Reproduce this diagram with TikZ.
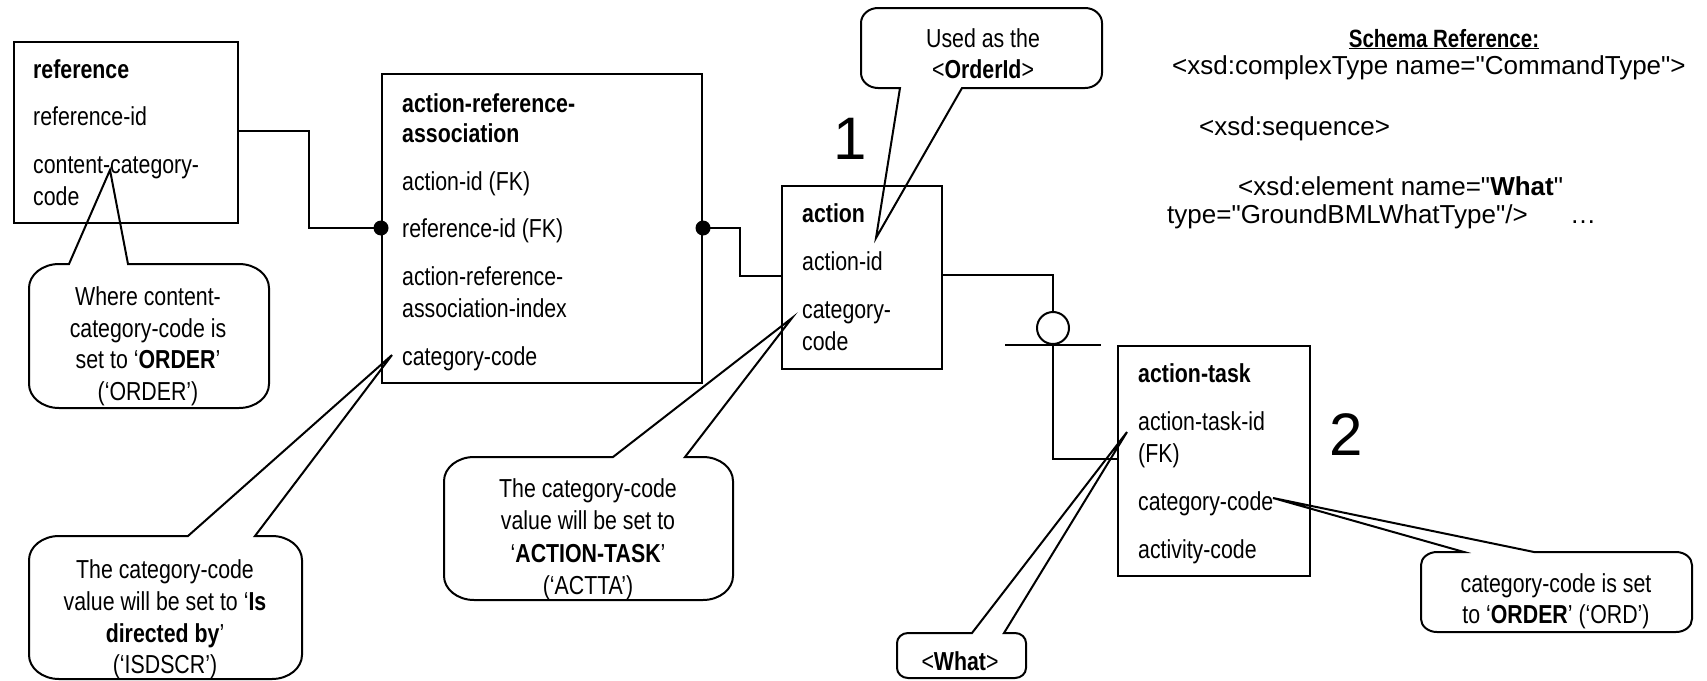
\documentclass[tikz,border=0pt]{standalone}
\usepackage{fontspec}
\setmainfont{Liberation Sans}
\newfontfamily\nf[FakeStretch=0.82]{Liberation Sans}
\newfontfamily\schf[Ligatures=TeXOff]{Liberation Sans}
\newcommand{\nsz}{\fontsize{26}{31}\selectfont}
\def\crx{30}\def\cry{24}
% callout with tail on the top edge: x1,y1,x2,y2,b1,b2,tip
\newcommand{\calloutTop}[7]{%
 \draw[co] ({#1+\crx},#2) -- (#5,#2) -- (#7) -- (#6,#2) -- ({#3-\crx},#2)
  .. controls ({#3-0.45*\crx},#2) and (#3,{#2+0.45*\cry}) .. (#3,{#2+\cry})
  -- (#3,{#4-\cry})
  .. controls (#3,{#4-0.45*\cry}) and ({#3-0.45*\crx},#4) .. ({#3-\crx},#4)
  -- ({#1+\crx},#4)
  .. controls ({#1+0.45*\crx},#4) and (#1,{#4-0.45*\cry}) .. (#1,{#4-\cry})
  -- (#1,{#2+\cry})
  .. controls (#1,{#2+0.45*\cry}) and ({#1+0.45*\crx},#2) .. ({#1+\crx},#2) -- cycle;}
% callout with tail on the bottom edge
\newcommand{\calloutBot}[7]{%
 \draw[co] ({#1+\crx},#2) -- ({#3-\crx},#2)
  .. controls ({#3-0.45*\crx},#2) and (#3,{#2+0.45*\cry}) .. (#3,{#2+\cry})
  -- (#3,{#4-\cry})
  .. controls (#3,{#4-0.45*\cry}) and ({#3-0.45*\crx},#4) .. ({#3-\crx},#4)
  -- (#6,#4) -- (#7) -- (#5,#4) -- ({#1+\crx},#4)
  .. controls ({#1+0.45*\crx},#4) and (#1,{#4-0.45*\cry}) .. (#1,{#4-\cry})
  -- (#1,{#2+\cry})
  .. controls (#1,{#2+0.45*\cry}) and ({#1+0.45*\crx},#2) .. ({#1+\crx},#2) -- cycle;}
\begin{document}
\begin{tikzpicture}[x=1pt,y=-1pt,
  ebox/.style={draw, line width=2pt, anchor=north west, inner sep=0pt},
  etxt/.style={anchor=base west, inner sep=0pt, font=\nf\nsz},
  etitle/.style={anchor=base west, inner sep=0pt, font=\nf\nsz\bfseries},
  ctxt/.style={anchor=base, inner sep=0pt, font=\nf\nsz},
  stxt/.style={anchor=base west, inner sep=0pt, font=\schf\nsz},
  conn/.style={line width=2pt},
  co/.style={line width=2pt, line join=miter},
  bignum/.style={inner sep=0pt, font=\fontsize{60}{60}\selectfont}]
\useasboundingbox (0,0) rectangle (1707,680);

% entity boxes
\node[ebox, minimum width=224pt, minimum height=181pt] (ref) at (13,41) {};
\node[ebox, minimum width=320pt, minimum height=309pt] (ara) at (381,73) {};
\node[ebox, minimum width=160pt, minimum height=183pt] (act) at (781,185) {};
\node[ebox, minimum width=192pt, minimum height=230pt] (atk) at (1117,345) {};

% reference
\node[etitle] (ref1) at (33,78) {reference};
\node[etxt] (ref2) at (33,125) {reference-id};
\node[etxt] (ref3) at (33,173) {content-category-};
\node[etxt] (ref4) at (33,205) {code};
% action-reference-association
\node[etitle] (ara1) at (402,112) {action-reference-};
\node[etitle] (ara2) at (402,142) {association};
\node[etxt] (ara3) at (402,190) {action-id (FK)};
\node[etxt] (ara4) at (402,237) {reference-id (FK)};
\node[etxt] (ara5) at (402,285) {action-reference-};
\node[etxt] (ara6) at (402,317) {association-index};
\node[etxt] (ara7) at (402,365) {category-code};
% action
\node[etitle] (act1) at (802,222) {action};
\node[etxt] (act2) at (802,270) {action-id};
\node[etxt] (act3) at (802,318) {category-};
\node[etxt] (act4) at (802,350) {code};
% action-task
\node[etitle] (atk1) at (1138,382) {action-task};
\node[etxt] (atk2) at (1138,430) {action-task-id};
\node[etxt] (atk3) at (1138,462) {(FK)};
\node[etxt] (atk4) at (1138,510) {category-code};
\node[etxt] (atk5) at (1138,558) {activity-code};

% big numbers
\node[bignum] (n1) at (850,139) {1};
\node[bignum] (n2) at (1346,435) {2};

% connectors
\coordinate (refR) at (ref.east |- 0,131);
\coordinate (araL) at (ara.west |- 0,228);
\coordinate (araR) at (ara.east |- 0,228);
\coordinate (actL) at (act.west |- 0,276);
\coordinate (actR) at (act.east |- 0,275);
\coordinate (atkL) at (atk.west |- 0,459);
\node[circle, draw, line width=2pt, minimum size=32pt, inner sep=0pt] (opt) at (1053,328) {};
\coordinate (barL) at (1005,345);
\coordinate (barR) at (1101,345);

\draw[conn] (refR) -| (309,228) -- (araL);
\fill (araL) circle[radius=7.5pt];
\draw[conn] (araR) -| (740,276) -- (actL);
\fill (araR) circle[radius=7.5pt];
\draw[conn] (actR) -| (opt.north);
\draw[line width=2.5pt] (barL) -- (barR);
\draw[conn] (opt.south) |- (atkL);

% callout tips
\coordinate (tipC1) at (110,170);
\coordinate (tipC2) at (392,355);
\coordinate (tipC3) at (792,318);
\coordinate (tipC4) at (876,238);
\coordinate (tipC5) at (1127,432);
\coordinate (tipC6) at (1273,498);

% callouts
\calloutTop{29}{264}{269}{408}{69}{128}{tipC1}
\calloutTop{29}{536}{302}{679}{188}{255}{tipC2}
\calloutTop{444}{457}{733}{600}{613}{685}{tipC3}
\def\crx{17}\def\cry{15}
\calloutBot{861}{8}{1102}{88}{900}{962}{tipC4}
\def\crx{16}\def\cry{13}
\calloutTop{1421}{552}{1692}{632}{1464}{1534}{tipC6}
\def\crx{11}\def\cry{10}
\calloutTop{897}{633}{1026}{678}{972}{1004}{tipC5}

% callout texts
\node[ctxt] (c1a) at (148,305) {Where content-};
\node[ctxt] (c1b) at (148,337) {category-code is};
\node[ctxt] (c1c) at (148,368) {set to ‘\textbf{ORDER}’};
\node[ctxt] (c1d) at (148,400) {(‘ORDER’)};

\node[ctxt] (c2a) at (165,578) {The category-code};
\node[ctxt] (c2b) at (165,610) {value will be set to ‘\textbf{Is}};
\node[ctxt] (c2c) at (165,642) {\textbf{directed by}’};
\node[ctxt] (c2d) at (165,673) {(‘ISDSCR’)};

\node[ctxt] (c3a) at (588,497) {The category-code};
\node[ctxt] (c3b) at (588,529) {value will be set to};
\node[ctxt] (c3c) at (588,562) {‘\textbf{ACTION-TASK}’};
\node[ctxt] (c3d) at (588,594) {(‘ACTTA’)};

\node[ctxt] (c4a) at (983,47) {Used as the};
\node[ctxt] (c4b) at (983,78) {<\textbf{OrderId}>};

\node[ctxt] (c5a) at (960,670) {<\textbf{What}>};

\node[ctxt] (c6a) at (1556,592) {category-code is set};
\node[ctxt] (c6b) at (1556,623) {to ‘\textbf{ORDER}’ (‘ORD’)};

% schema reference
\node[anchor=base, inner sep=0pt, font=\nf\fontsize{25}{30}\selectfont\bfseries] (sch0) at (1444,47) {\underline{Schema Reference:}};
\node[stxt] (sch1) at (1172,74) {<xsd:complexType name="CommandType">};
\node[stxt] (sch2) at (1199,135) {<xsd:sequence>};
\node[stxt] (sch3) at (1238,195) {<xsd:element name="\textbf{What}"};
\node[stxt] (sch4) at (1167,223) {type="GroundBMLWhatType"/>};
\node[stxt] (sch5) at (1570,223) {…};
\end{tikzpicture}
\end{document}
